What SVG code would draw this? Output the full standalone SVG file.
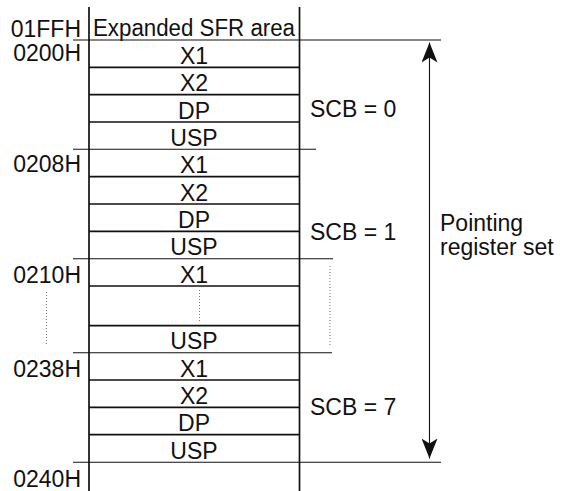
<svg xmlns="http://www.w3.org/2000/svg" width="562" height="491" viewBox="0 0 562 491">
  <style>
    text { font-family: "Liberation Sans", Arial, sans-serif; font-size: 23px; fill: #111; }
    .c { text-anchor: middle; }
    .r { text-anchor: end; }
    .grid { stroke: #111; stroke-width: 1.7; fill: none; }
    .thin { stroke: #111; stroke-width: 1.1; fill: none; }
    .dot { stroke: #777; stroke-width: 1; stroke-dasharray: 1 2; fill: none; }
  </style>
  <defs>
    <marker id="ah" viewBox="0 0 20 16" refX="20" refY="8" markerWidth="20" markerHeight="16" markerUnits="userSpaceOnUse" orient="auto-start-reverse">
      <path d="M0,0 L20,8 L0,16 L5,8 Z" fill="#111"/>
    </marker>
  </defs>

  <rect width="562" height="491" fill="#fff"/>

  <g id="frame">
    <line class="grid" x1="89" y1="7" x2="89" y2="491"/>
    <line class="grid" x1="299.5" y1="7" x2="299.5" y2="491"/>
  </g>

  <g id="addresses">
    <text class="r" x="81" y="36.7">01FFH</text>
    <text class="r" x="81" y="60.5">0200H</text>
    <text class="r" x="81" y="172.3">0208H</text>
    <text class="r" x="81" y="282.7">0210H</text>
    <text class="r" x="81" y="377">0238H</text>
    <text class="r" x="81" y="486.5">0240H</text>
    <line class="dot" x1="46.5" y1="292" x2="46.5" y2="345"/>
  </g>

  <g id="sfr">
    <text x="93" y="36" textLength="202" lengthAdjust="spacingAndGlyphs">Expanded SFR area</text>
  </g>

  <g id="scb0">
    <line class="grid" x1="89" y1="67.3" x2="299.5" y2="67.3"/>
    <line class="grid" x1="89" y1="94.7" x2="299.5" y2="94.7"/>
    <line class="grid" x1="89" y1="122" x2="299.5" y2="122"/>
    <text class="c" x="194" y="64">X1</text>
    <text class="c" x="194" y="91.3">X2</text>
    <text class="c" x="194" y="118.7">DP</text>
    <text class="c" x="194" y="146">USP</text>
    <text x="310" y="117.3">SCB = 0</text>
  </g>

  <g id="scb1">
    <line class="grid" x1="89" y1="176.7" x2="299.5" y2="176.7"/>
    <line class="grid" x1="89" y1="204" x2="299.5" y2="204"/>
    <line class="grid" x1="89" y1="231.3" x2="299.5" y2="231.3"/>
    <text class="c" x="194" y="173.3">X1</text>
    <text class="c" x="194" y="200.7">X2</text>
    <text class="c" x="194" y="228">DP</text>
    <text class="c" x="194" y="255.3">USP</text>
    <text x="310" y="240">SCB = 1</text>
  </g>

  <g id="scb2to6">
    <line class="grid" x1="89" y1="286" x2="299.5" y2="286"/>
    <line class="grid" x1="89" y1="325.7" x2="299.5" y2="325.7"/>
    <text class="c" x="194" y="282.7">X1</text>
    <line class="dot" x1="199.5" y1="290" x2="199.5" y2="321"/>
    <text class="c" x="194" y="349.3">USP</text>
    <line class="dot" x1="330" y1="266" x2="330" y2="347"/>
  </g>

  <g id="scb7">
    <line class="grid" x1="89" y1="380" x2="299.5" y2="380"/>
    <line class="grid" x1="89" y1="407.3" x2="299.5" y2="407.3"/>
    <line class="grid" x1="89" y1="434.7" x2="299.5" y2="434.7"/>
    <text class="c" x="194" y="376.7">X1</text>
    <text class="c" x="194" y="404">X2</text>
    <text class="c" x="194" y="431.3">DP</text>
    <text class="c" x="194" y="458.7">USP</text>
    <text x="310" y="415">SCB = 7</text>
  </g>

  <g id="boundaries">
    <line class="thin" x1="73" y1="40" x2="441" y2="40"/>
    <line class="thin" x1="73" y1="149.3" x2="316" y2="149.3"/>
    <line class="thin" x1="73" y1="258.7" x2="333" y2="258.7"/>
    <line class="thin" x1="73" y1="352.7" x2="332" y2="352.7"/>
    <line class="thin" x1="73" y1="462.3" x2="441" y2="462.3"/>
  </g>

  <g id="pointing-label">
    <text x="440" y="230.5">Pointing</text>
    <text x="440" y="255">register set</text>
  </g>

  <g id="connectors">
    <line class="thin" x1="429.5" y1="42.5" x2="429.5" y2="458.5" marker-start="url(#ah)" marker-end="url(#ah)"/>
  </g>
</svg>
